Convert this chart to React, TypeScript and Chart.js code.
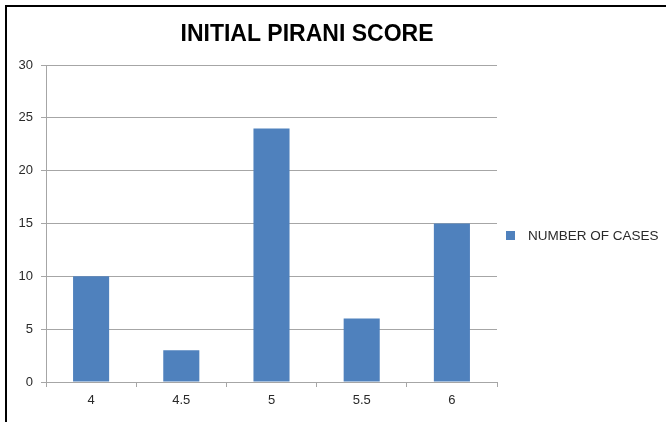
import React, { useEffect, useRef } from "react";
import { Chart, registerables } from "chart.js";

Chart.register(...registerables);

const TITLE = "INITIAL PIRANI SCORE";
const categories = ["4", "4.5", "5", "5.5", "6"];
const seriesLabel = "NUMBER OF CASES";
const cases = [10, 3, 24, 6, 15];
const yTicks = { min: 0, max: 30, step: 5 };

const BAR_COLOR = "#4F81BD";
const GRID = "#a6a6a6";
const FONT = "'Liberation Sans', Arial, sans-serif";

const titlePlugin = {
  id: "customTitle",
  afterDraw(chart: any) {
    const ctx = chart.ctx;
    ctx.save();
    ctx.font = `bold 23px ${FONT}`;
    ctx.fillStyle = "#000";
    ctx.textAlign = "center";
    ctx.textBaseline = "alphabetic";
    ctx.fillText(TITLE, chart.width / 2 - 26, 41);
    ctx.restore();
  },
};

const legendPlugin = {
  id: "customLegend",
  afterDraw(chart: any) {
    const ctx = chart.ctx;
    const area = chart.chartArea;
    const xScale = chart.scales.x;
    const ds = chart.data.datasets[0];
    const cy = (area.top + xScale.bottom) / 2 - 8;
    const x0 = area.right + 9;
    ctx.save();
    ctx.fillStyle = ds.backgroundColor;
    ctx.fillRect(x0, cy - 4.5, 9, 9);
    ctx.font = `13.5px ${FONT}`;
    ctx.fillStyle = "#2a2a2a";
    ctx.textAlign = "left";
    ctx.textBaseline = "middle";
    ctx.fillText(ds.label, x0 + 22, cy + 1);
    ctx.restore();
  },
};

function App() {
  const ref = useRef<HTMLCanvasElement>(null);
  useEffect(() => {
    if (!ref.current) return;
    const chart = new Chart(ref.current, {
      type: "bar",
      data: {
        labels: categories,
        datasets: [
          {
            label: seriesLabel,
            data: cases,
            backgroundColor: BAR_COLOR,
            borderWidth: 0,
            categoryPercentage: 1,
            barPercentage: 0.4,
          },
        ],
      },
      options: {
        responsive: false,
        animation: false,
        layout: { padding: { top: 65, left: 0, right: 169, bottom: 0 } },
        plugins: {
          legend: { display: false },
          title: { display: false },
          tooltip: { enabled: false },
        },
        scales: {
          x: {
            afterFit: (s: any) => {
              s.height = 40;
            },
            grid: {
              display: true,
              drawOnChartArea: false,
              drawTicks: true,
              tickLength: 5,
              color: GRID,
              offset: true,
            },
            border: { display: true, color: GRID, width: 1 },
            ticks: {
              color: "#2a2a2a",
              font: { family: FONT, size: 13 },
              padding: 6,
            },
          },
          y: {
            min: yTicks.min,
            max: yTicks.max,
            afterFit: (s: any) => {
              s.width = 46;
            },
            grid: {
              color: GRID,
              drawTicks: true,
              tickLength: 5,
            },
            border: { display: true, color: GRID, width: 1 },
            ticks: {
              stepSize: yTicks.step,
              color: "#2a2a2a",
              font: { family: FONT, size: 13 },
              padding: 8,
            },
          },
        },
      },
      plugins: [titlePlugin, legendPlugin],
    });
    return () => chart.destroy();
  }, []);

  return (
    <div
      style={{
        position: "absolute",
        left: 0,
        top: 0,
        width: 666,
        height: 422,
        background: "#fff",
        overflow: "hidden",
      }}
    >
      <canvas ref={ref} width={666} height={422} style={{ position: "absolute", left: 0, top: 0 }} />
      <div
        style={{
          position: "absolute",
          left: 5,
          top: 5,
          right: 0,
          bottom: 0,
          borderLeft: "2px solid #000",
          borderTop: "2px solid #000",
          pointerEvents: "none",
        }}
      />
    </div>
  );
}

export default App;
